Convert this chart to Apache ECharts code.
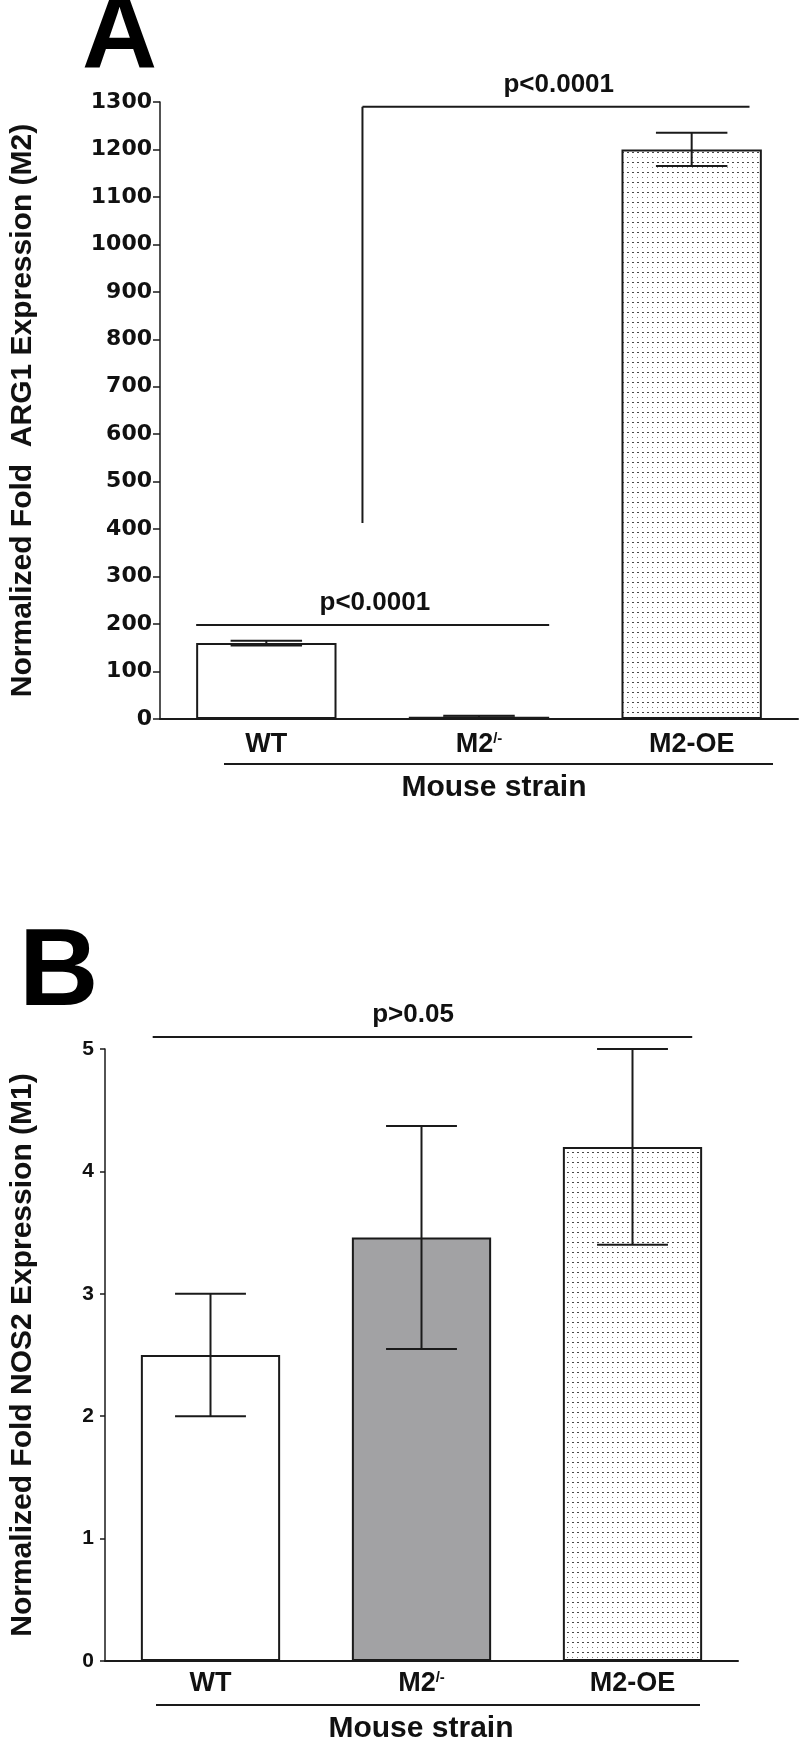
<!DOCTYPE html>
<html><head><meta charset="utf-8">
<script src="https://cdn.jsdelivr.net/npm/echarts@6/dist/echarts.min.js"></script>
<style>html,body{margin:0;padding:0;background:#fff}#c{width:800px;height:1740px}</style>
</head><body><div id="c"></div>
<script>
// ---------- data ----------
const categories = ['WT', 'M2-/-', 'M2-OE'];
const arg1Mean = [160, 5, 1200];
const arg1Err = [5, 2, 35];
const nos2Mean = [2.5, 3.46, 4.2];
const nos2Err = [0.5, 0.91, 0.8];
const arg1Axis = { min: 0, max: 1300, interval: 100 };
const nos2Axis = { min: 0, max: 5, interval: 1 };
// significance bars: [x from, x to (category-index units), level, drop-to level or null, label, label x]
const sigA = [[-0.33, 1.33, 198, null, 'p<0.0001', 0.51], [0.452, 2.272, 1290, 413, 'p<0.0001', 1.375]];
const sigB = [[-0.274, 2.283, 5.098, null, 'p>0.05', 0.96]];
const titleA = 'Normalized Fold  ARG1 Expression (M2)';
const titleB = 'Normalized Fold NOS2 Expression (M1)';
const xTitle = 'Mouse strain';

// ---------- styles ----------
const INK = '#1a1a1a';
const FONT = 'Liberation Sans, Arial, sans-serif';
function dotPattern() {
  const c = document.createElement('canvas'); c.width = 5; c.height = 10;
  const g = c.getContext('2d');
  g.fillStyle = '#ffffff'; g.fillRect(0, 0, 5, 10);
  g.fillStyle = '#444'; g.fillRect(2, 2, 2, 1);
  g.fillStyle = '#888'; g.fillRect(2, 7, 1, 1);
  return c;
}
const fills = ['#ffffff', '#a2a2a4', { image: dotPattern(), repeat: 'repeat' }];

function barData(vals) {
  return vals.map((v, i) => ({ value: v, itemStyle: { color: fills[i] } }));
}
function errData(means, errs) { return means.map((m, i) => [i, m, errs[i]]); }

function errRender(params, api) {
  const i = api.value(0), m = api.value(1), e = api.value(2);
  const top = api.coord([i, m + e]), bot = api.coord([i, m - e]);
  const half = api.size([1, 0])[0] * 0.168;
  const st = { stroke: INK, lineWidth: 2 };
  return { type: 'group', children: [
    { type: 'line', shape: { x1: top[0], y1: top[1], x2: bot[0], y2: bot[1] }, style: st },
    { type: 'line', shape: { x1: top[0] - half, y1: top[1], x2: top[0] + half, y2: top[1] }, style: st },
    { type: 'line', shape: { x1: bot[0] - half, y1: bot[1], x2: bot[0] + half, y2: bot[1] }, style: st }
  ] };
}
function sigRenderFor(arr) {
  return function (params, api) {
    const s = arr[params.dataIndex];
    const p1 = api.coord([s[0], s[2]]), p2 = api.coord([s[1], s[2]]);
    const pl = api.coord([s[5], s[2]]);
    const st = { stroke: INK, lineWidth: 2 };
    const ch = [{ type: 'line', shape: { x1: p1[0], y1: p1[1], x2: p2[0], y2: p2[1] }, style: st }];
    if (s[3] != null) {
      const p3 = api.coord([s[0], s[3]]);
      ch.push({ type: 'line', shape: { x1: p1[0], y1: p1[1], x2: p3[0], y2: p3[1] }, style: st });
    }
    ch.push({ type: 'text', x: pl[0], y: p1[1] - 22,
      style: { text: s[4], fontFamily: FONT, fontWeight: 'bold', fontSize: 26, fill: '#111', align: 'center', verticalAlign: 'middle' } });
    return { type: 'group', children: ch };
  };
}

const catLabel = {
  formatter: v => v === 'M2-/-' ? '{m|M2}{s|/-}' : '{m|' + v + '}',
  rich: {
    m: { fontFamily: FONT, fontWeight: 'bold', fontSize: 27, color: '#111' },
    s: { fontFamily: FONT, fontWeight: 'bold', fontSize: 15, color: '#111', verticalAlign: 'top' }
  }
};
function catAxis(grid, margin) {
  return { gridIndex: grid, type: 'category', data: categories,
    axisLine: { lineStyle: { color: INK, width: 2 } },
    axisTick: { alignWithLabel: true, length: 7, lineStyle: { color: INK, width: 2 } },
    axisLabel: Object.assign({}, catLabel, { margin: margin }) };
}
function valAxis(grid, ax, name, gap, lblFont, lblSize, lblMargin, tickLen) {
  return { gridIndex: grid, type: 'value', min: ax.min, max: ax.max, interval: ax.interval,
    axisLine: { show: true, onZero: false, lineStyle: { color: INK, width: 1.5 } },
    axisTick: { show: true, length: tickLen, lineStyle: { color: INK, width: 1.5 } },
    splitLine: { show: false },
    axisLabel: { margin: lblMargin, formatter: v => String(v), fontFamily: lblFont, fontWeight: 'bold', fontSize: lblSize, color: '#111' },
    name: name, nameLocation: 'middle', nameRotate: 90, nameGap: gap,
    nameTextStyle: { fontFamily: FONT, fontWeight: 'bold', fontSize: 30, color: '#111' } };
}

const chart = echarts.init(document.getElementById('c'), null, { renderer: 'canvas' });
chart.setOption({
  backgroundColor: '#ffffff',
  animation: false,
  grid: [
    { left: 155, right: 2, top: 102, height: 617 },
    { left: 100, right: 62, top: 1049, height: 612 }
  ],
  xAxis: [
    catAxis(0, 12),
    { gridIndex: 0, type: 'value', min: -0.5, max: 2.5, show: false },
    catAxis(1, 9),
    { gridIndex: 1, type: 'value', min: -0.5, max: 2.5, show: false }
  ],
  yAxis: [
    valAxis(0, arg1Axis, titleA, 122, 'DejaVu Sans', 22, 8, 7),
    valAxis(1, nos2Axis, titleB, 67, FONT, 21, 11, 5)
  ],
  series: [
    { type: 'bar', xAxisIndex: 0, yAxisIndex: 0, barWidth: '66%', data: barData(arg1Mean),
      itemStyle: { borderColor: INK, borderWidth: 2 } },
    { type: 'custom', xAxisIndex: 0, yAxisIndex: 0, renderItem: errRender, data: errData(arg1Mean, arg1Err), z: 5 },
    { type: 'custom', xAxisIndex: 1, yAxisIndex: 0, renderItem: sigRenderFor(sigA), data: sigA.map(s => [s[0], s[1], s[2]]), z: 5 },
    { type: 'bar', xAxisIndex: 2, yAxisIndex: 1, barWidth: '66%', data: barData(nos2Mean),
      itemStyle: { borderColor: INK, borderWidth: 2 } },
    { type: 'custom', xAxisIndex: 2, yAxisIndex: 1, renderItem: errRender, data: errData(nos2Mean, nos2Err), z: 5 },
    { type: 'custom', xAxisIndex: 3, yAxisIndex: 1, renderItem: sigRenderFor(sigB), data: sigB.map(s => [s[0], s[1], s[2]]), z: 5 }
  ],
  graphic: [
    { type: 'text', left: 82, top: -14, style: { text: 'A', fontFamily: FONT, fontWeight: 'bold', fontSize: 104, fill: '#000' } },
    { type: 'text', left: 19, top: 920, style: { text: 'B', fontFamily: FONT, fontWeight: 'bold', fontSize: 110, fill: '#000' } },
    { type: 'line', shape: { x1: 224, y1: 764, x2: 773, y2: 764 }, style: { stroke: INK, lineWidth: 2 } },
    { type: 'text', x: 494, y: 788, style: { text: xTitle, fontFamily: FONT, fontWeight: 'bold', fontSize: 30, fill: '#111', align: 'center', verticalAlign: 'middle' } },
    { type: 'line', shape: { x1: 156, y1: 1705, x2: 700, y2: 1705 }, style: { stroke: INK, lineWidth: 2 } },
    { type: 'text', x: 421, y: 1729, style: { text: xTitle, fontFamily: FONT, fontWeight: 'bold', fontSize: 30, fill: '#111', align: 'center', verticalAlign: 'middle' } }
  ]
});
</script></body></html>
